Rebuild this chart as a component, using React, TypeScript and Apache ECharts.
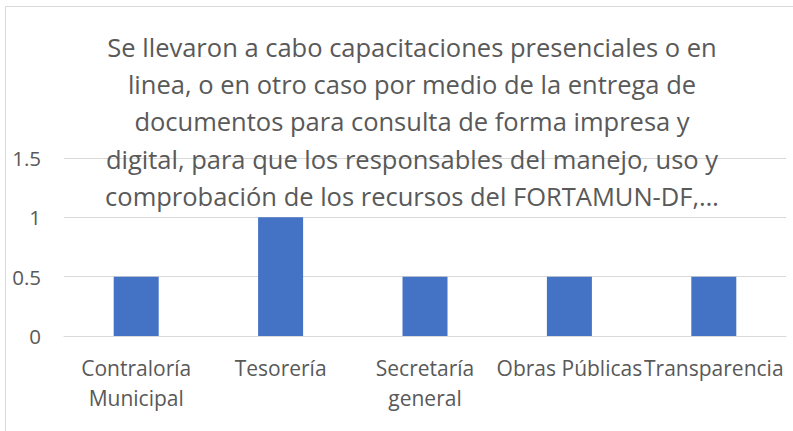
import React, { useEffect, useRef } from "react";
import * as echarts from "echarts";

const categories = [
  "Contraloría\nMunicipal",
  "Tesorería",
  "Secretaría\ngeneral",
  "Obras Públicas",
  "Transparencia",
];
const values = [0.5, 1, 0.5, 0.5, 0.5];
const titleLines = [
  "Se llevaron a cabo capacitaciones presenciales o en",
  "linea, o en otro caso por medio de la entrega de",
  "documentos para consulta de forma impresa y",
  "digital, para que los responsables del manejo, uso y",
  "comprobación de los recursos del FORTAMUN-DF,…",
];

export default function App() {
  const ref = useRef<HTMLDivElement>(null);
  useEffect(() => {
    if (!ref.current) return;
    const chart = echarts.init(ref.current, null, { renderer: "svg" });
    chart.setOption({
      animation: false,
      backgroundColor: "#ffffff",
      graphic: [
        {
          type: "rect",
          shape: { x: 5.5, y: 6.5, width: 900, height: 500 },
          style: { fill: "none", stroke: "#d9d9d9", lineWidth: 1 },
          z: -10,
        },
      ],
      title: {
        text: titleLines.join("\n"),
        left: 407,
        textAlign: "center",
        top: 23,
        textStyle: {
          fontFamily: "Open Sans",
          fontSize: 25.5,
          fontWeight: "normal",
          color: "#595959",
          lineHeight: 37.3,
        },
      },
      grid: { left: 64, right: 7, top: 158, bottom: 95 },
      xAxis: {
        type: "category",
        data: categories,
        axisTick: { show: false },
        axisLine: { lineStyle: { color: "#d9d9d9", width: 1 } },
        axisLabel: {
          interval: 0,
          margin: 17,
          fontFamily: "Open Sans",
          fontSize: 21,
          color: "#595959",
          lineHeight: 30,
        },
      },
      yAxis: {
        type: "value",
        min: 0,
        max: 1.5,
        interval: 0.5,
        axisLine: { show: false },
        axisTick: { show: false },
        splitLine: { lineStyle: { color: "#d9d9d9", width: 1 } },
        axisLabel: {
          margin: 23,
          fontFamily: "Open Sans",
          fontSize: 20.5,
          color: "#595959",
        },
      },
      series: [
        {
          type: "bar",
          data: values,
          barWidth: 45,
          itemStyle: { color: "#4472c4" },
        },
      ],
    });
    return () => chart.dispose();
  }, []);
  return (
    <div
      ref={ref}
      style={{ position: "fixed", left: 0, top: 0, width: 793, height: 431 }}
    />
  );
}
